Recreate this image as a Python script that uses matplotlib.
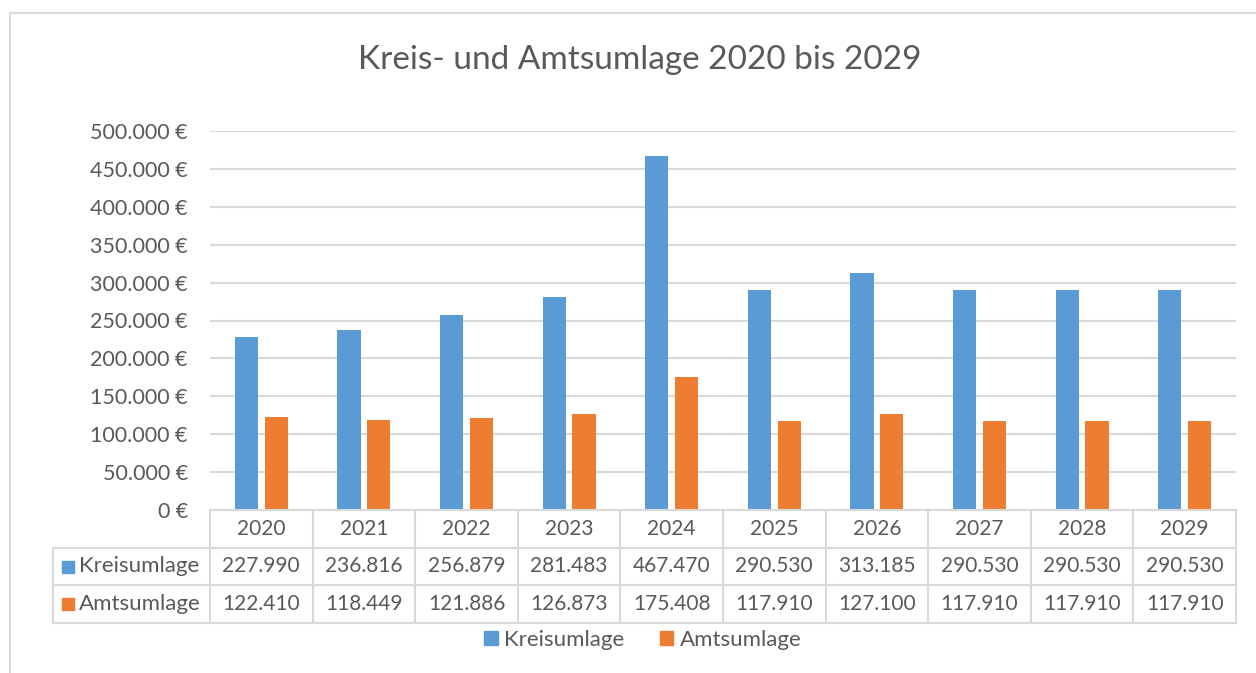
import matplotlib

matplotlib.use("Agg")
import matplotlib.pyplot as plt
from matplotlib.patches import Rectangle
from matplotlib.ticker import FuncFormatter, MultipleLocator

plt.rcParams["font.family"] = ["Lato", "DejaVu Sans"]

# Data
years = ["2020", "2021", "2022", "2023", "2024", "2025", "2026", "2027", "2028", "2029"]
kreisumlage = [227990, 236816, 256879, 281483, 467470, 290530, 313185, 290530, 290530, 290530]
amtsumlage = [122410, 118449, 121886, 126873, 175408, 117910, 127100, 117910, 117910, 117910]
series_names = ["Kreisumlage", "Amtsumlage"]

BLUE = "#5B9BD5"
ORANGE = "#ED7D31"
TEXT = "#595959"
GRID = "#D9D9D9"

W, H = 1256, 673
fig = plt.figure(figsize=(W / 100, H / 100), dpi=100)
fig.patch.set_facecolor("white")

# outer chart frame (cut off at right/bottom like the screenshot)
fig.patches.append(Rectangle((10 / W, -0.1), 1.2, (H - 13) / H + 0.1,
                             transform=fig.transFigure, fill=False,
                             edgecolor=GRID, linewidth=1.5))

# plot area in pixels
x0, x1 = 210, 1236
y_top, y_bot = 131, 510
ax = fig.add_axes([x0 / W, (H - y_bot) / H, (x1 - x0) / W, (y_bot - y_top) / H])

n = len(years)
xs = list(range(n))
bw = 0.225
off = 0.145
ax.bar([x - off for x in xs], kreisumlage, width=bw, color=BLUE, zorder=3)
ax.bar([x + off for x in xs], amtsumlage, width=bw, color=ORANGE, zorder=3)

ax.set_xlim(-0.5, n - 0.5)
ax.set_ylim(0, 500000)
ax.yaxis.set_major_locator(MultipleLocator(50000))
ax.yaxis.set_major_formatter(FuncFormatter(
    lambda v, p: f"{v:,.0f}".replace(",", ".") + " €"))
ax.grid(axis="y", color=GRID, linewidth=1.5, zorder=0)
ax.tick_params(axis="y", length=0, pad=16, labelsize=15.5, labelcolor=TEXT)
ax.set_xticks([])
for s in ax.spines.values():
    s.set_visible(False)

fig.text(640 / W, (H - 60) / H, "Kreis- und Amtsumlage 2020 bis 2029",
         ha="center", va="center", fontsize=24, color=TEXT)

# data table below the plot area
tx0, ty_bot = 53, 623
tax = fig.add_axes([tx0 / W, (H - ty_bot) / H, (x1 - tx0) / W, (ty_bot - y_bot) / H])
colw = (x1 - x0) / n
lab_w = (x0 - tx0) / colw
tax.set_xlim(-0.5 - lab_w, n - 0.5)
tax.set_ylim(3, 0)
tax.axis("off")

lw = 1.5
# horizontal lines
tax.plot([-0.5, n - 0.5], [0, 0], color=GRID, lw=lw, clip_on=False)
for r in (1, 2, 3):
    tax.plot([-0.5 - lab_w, n - 0.5], [r, r], color=GRID, lw=lw, clip_on=False)
# vertical lines
for c in range(n + 1):
    tax.plot([c - 0.5, c - 0.5], [0, 3], color=GRID, lw=lw, clip_on=False)
tax.plot([-0.5 - lab_w, -0.5 - lab_w], [1, 3], color=GRID, lw=lw, clip_on=False)

fs = 15
for i, y in enumerate(years):
    tax.text(i, 0.5, y, ha="center", va="center", fontsize=fs, color=TEXT)
rows = [kreisumlage, amtsumlage]
colors = [BLUE, ORANGE]
for r, (vals, name, col) in enumerate(zip(rows, series_names, colors)):
    yy = r + 1.5
    for i, v in enumerate(vals):
        tax.text(i, yy, f"{v:,.0f}".replace(",", "."), ha="center", va="center",
                 fontsize=fs, color=TEXT)
    tax.scatter([-0.5 - lab_w + 0.15], [yy], marker="s", s=75, color=col, clip_on=False)
    tax.text(-0.5 - lab_w + 0.255, yy, name, ha="left", va="center",
             fontsize=16, color=TEXT)

# legend
handles = [Rectangle((0, 0), 1, 1, color=c) for c in colors]
fig.legend(handles, series_names, loc="center", bbox_to_anchor=(643 / W, (H - 640) / H),
           ncol=2, frameon=False, fontsize=16, labelcolor=TEXT,
           handlelength=0.6, handleheight=0.6, handletextpad=0.3, columnspacing=1.6)

fig.savefig("out.png", dpi=100, facecolor="white")
